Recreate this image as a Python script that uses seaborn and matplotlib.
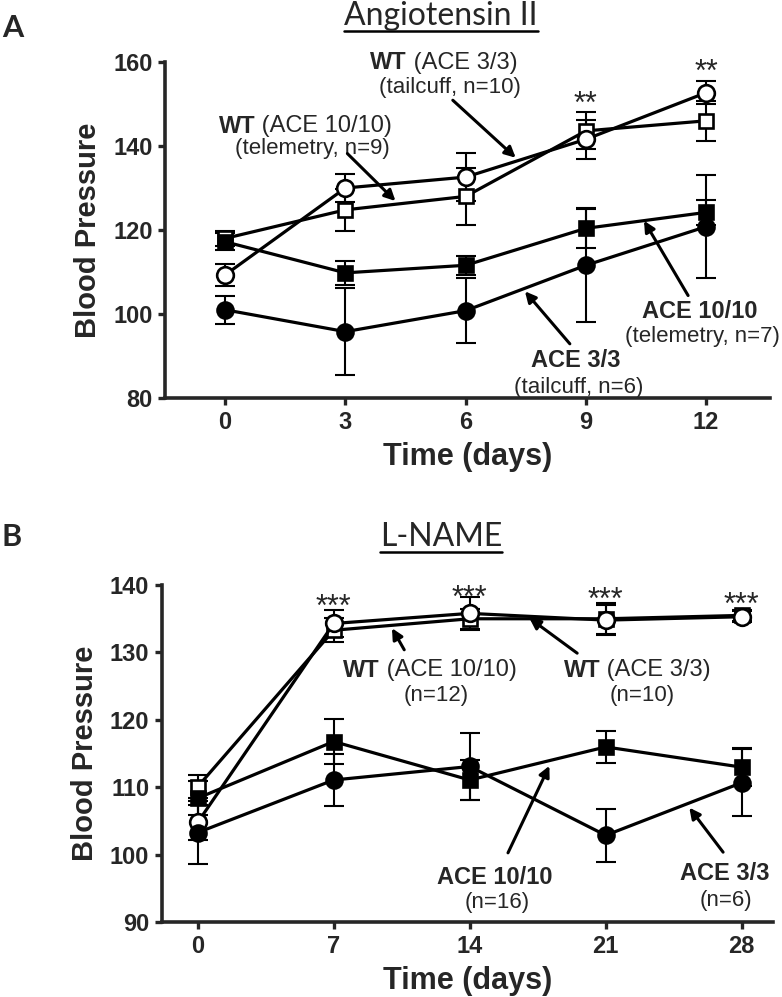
import numpy as np
import pandas as pd
import matplotlib
matplotlib.use("Agg")
import matplotlib.pyplot as plt
from matplotlib.lines import Line2D
import seaborn as sns

# Angiotensin II (mean, sem)
ang_days = [0, 3, 6, 9, 12]
ang_wt1010 = [118.0, 124.8, 128.0, 143.6, 146.0]
ang_wt1010_sem = [1.8, 5.0, 6.8, 4.4, 4.8]
ang_wt33 = [109.3, 130.0, 132.6, 141.6, 152.7]
ang_wt33_sem = [2.6, 3.4, 5.8, 4.6, 2.7]
ang_ace1010 = [117.2, 109.8, 111.6, 120.4, 124.2]
ang_ace1010_sem = [2.0, 2.9, 2.3, 4.7, 2.9]
ang_ace33 = [101.0, 95.8, 100.8, 111.6, 120.8]
ang_ace33_sem = [3.4, 10.4, 7.8, 13.6, 12.2]

# L-NAME (mean, sem)
ln_days = [0, 7, 14, 21, 28]
ln_wt1010 = [110.1, 133.3, 135.0, 135.0, 135.5]
ln_wt1010_sem = [1.7, 1.8, 1.5, 2.3, 0.8]
ln_wt33 = [104.8, 134.3, 135.8, 134.8, 135.3]
ln_wt33_sem = [2.6, 2.0, 2.4, 2.2, 0.8]
ln_ace1010 = [108.4, 116.8, 111.1, 116.0, 113.0]
ln_ace1010_sem = [2.5, 3.4, 3.0, 2.4, 2.8]
ln_ace33 = [103.3, 111.1, 113.1, 102.9, 110.7]
ln_ace33_sem = [4.7, 3.8, 5.0, 3.9, 5.0]

sns.set_style("ticks")
plt.rcParams['font.family'] = ['Liberation Sans', 'DejaVu Sans']

fig = plt.figure(figsize=(7.82, 9.97), dpi=100)
axA = fig.add_axes([0.211, 0.6008, 0.774, 0.337])
axB = fig.add_axes([0.2068, 0.0749, 0.7815, 0.3383])

styles = [
    ("WT 10/10", "s", "white", 10),
    ("WT 3/3", "o", "white", 12),
    ("ACE 10/10", "s", "black", 10.5),
    ("ACE 3/3", "o", "black", 11.5),
]


def draw_panel(ax, days, series, sems):
    for (name, mk, fc, ms), vals, err in zip(styles, series, sems):
        df = pd.DataFrame({"day": days, "bp": vals})
        ax.errorbar(days, vals, yerr=err, fmt="none", ecolor="black",
                    elinewidth=1.5, capsize=7, capthick=1.5, zorder=2)
        sns.lineplot(data=df, x="day", y="bp", ax=ax, color="black",
                     lw=2.3, marker=mk, markersize=ms, markerfacecolor=fc,
                     markeredgecolor="black", markeredgewidth=1.9, zorder=3)
    for s in ["top", "right"]:
        ax.spines[s].set_visible(False)
    for s in ["left", "bottom"]:
        ax.spines[s].set_linewidth(2.6)
    ax.tick_params(width=2.4, length=5, labelsize=17, pad=4)
    ax.set_xlabel("Time (days)", fontsize=22, fontweight="bold", labelpad=6)
    ax.set_ylabel("Blood Pressure", fontsize=21, fontweight="bold", labelpad=8)


draw_panel(axA, ang_days, [ang_wt1010, ang_wt33, ang_ace1010, ang_ace33],
           [ang_wt1010_sem, ang_wt33_sem, ang_ace1010_sem, ang_ace33_sem])
axA.set_xlim(-1.5, 13.6)
axA.set_ylim(80, 160)
axA.set_xticks(ang_days)
axA.set_yticks([80, 100, 120, 140, 160])

draw_panel(axB, ln_days, [ln_wt1010, ln_wt33, ln_ace1010, ln_ace33],
           [ln_wt1010_sem, ln_wt33_sem, ln_ace1010_sem, ln_ace33_sem])
axB.set_xlim(-1.85, 29.6)
axB.set_ylim(90, 140)
axB.set_xticks(ln_days)
axB.set_yticks([90, 100, 110, 120, 130, 140])

for ax in (axA, axB):
    for lab in ax.get_xticklabels() + ax.get_yticklabels():
        lab.set_fontweight("bold")

arrow = dict(arrowstyle="-|>", lw=2.2, color="black", mutation_scale=16,
             shrinkA=0, shrinkB=0)
fs = 17


def wt_label(ax, x, y, rest):
    ax.text(x, y, "WT", ha="right", va="center", fontsize=fs, fontweight="bold")
    ax.text(x, y, " " + rest, ha="left", va="center", fontsize=fs)


# panel A annotations
wt_label(axA, 0.75, 144.7, "(ACE 10/10)")
axA.text(2.18, 139.4, "(telemetry, n=9)", ha="center", va="center", fontsize=16)
axA.annotate("", xy=(4.25, 126.9), xytext=(3.05, 138.2), arrowprops=arrow)
wt_label(axA, 4.53, 159.8, "(ACE 3/3)")
axA.text(5.6, 154.0, "(tailcuff, n=10)", ha="center", va="center", fontsize=16)
axA.annotate("", xy=(7.25, 137.2), xytext=(5.68, 150.9), arrowprops=arrow,
             annotation_clip=False)
axA.text(11.83, 100.6, "ACE 10/10", ha="center", va="center", fontsize=fs, fontweight="bold")
axA.text(11.9, 94.6, "(telemetry, n=7)", ha="center", va="center", fontsize=16)
axA.annotate("", xy=(10.45, 122.2), xytext=(11.55, 104.4), arrowprops=arrow)
axA.text(8.75, 88.9, "ACE 3/3", ha="center", va="center", fontsize=fs, fontweight="bold")
axA.text(8.83, 82.4, "(tailcuff, n=6)", ha="center", va="center", fontsize=16)
axA.annotate("", xy=(7.48, 105.4), xytext=(8.6, 92.9), arrowprops=arrow)
axA.text(9, 147.8, "**", ha="center", va="baseline", fontsize=22)
axA.text(12, 155.6, "**", ha="center", va="baseline", fontsize=22, clip_on=False)

# panel B annotations
for d, y in zip(ln_days[1:], [135.4, 136.8, 136.4, 135.7]):
    axB.text(d, y, "***", ha="center", va="baseline", fontsize=22, clip_on=False)
wt_label(axB, 9.37, 127.4, "(ACE 10/10)")
axB.text(12.3, 123.6, "(n=12)", ha="center", va="center", fontsize=16)
axB.annotate("", xy=(10.0, 133.6), xytext=(10.63, 130.4), arrowprops=arrow)
wt_label(axB, 20.73, 127.4, "(ACE 3/3)")
axB.text(22.9, 123.6, "(n=10)", ha="center", va="center", fontsize=16)
axB.annotate("", xy=(17.07, 135.1), xytext=(19.53, 129.9), arrowprops=arrow)
axB.text(15.3, 96.7, "ACE 10/10", ha="center", va="center", fontsize=fs, fontweight="bold")
axB.text(15.4, 93.0, "(n=16)", ha="center", va="center", fontsize=16)
axB.annotate("", xy=(18.1, 113.2), xytext=(15.97, 100.3), arrowprops=arrow)
axB.text(27.15, 97.3, "ACE 3/3", ha="center", va="center", fontsize=fs, fontweight="bold")
axB.text(27.2, 93.2, "(n=6)", ha="center", va="center", fontsize=16)
axB.annotate("", xy=(25.3, 107.0), xytext=(27.04, 100.4), arrowprops=arrow)

# titles and panel letters
tA = fig.text(441 / 782, 1 - 25 / 997, "Angiotensin II", ha="center", va="baseline",
              fontsize=23, family="Lato")
tB = fig.text(441 / 782, 1 - 546 / 997, "L-NAME", ha="center", va="baseline",
              fontsize=23, family="Lato")
fig.text(2 / 782, 1 - 37 / 997, "A", ha="left", va="baseline", fontsize=22,
         family="Lato", fontweight="bold")
fig.text(2 / 782, 1 - 546 / 997, "B", ha="left", va="baseline", fontsize=22,
         family="Lato", fontweight="bold")

fig.canvas.draw()
r = fig.canvas.get_renderer()
for t, uy in ((tA, 31), (tB, 552)):
    bb = t.get_window_extent(r).transformed(fig.transFigure.inverted())
    fig.add_artist(Line2D([bb.x0, bb.x1], [1 - uy / 997] * 2, color="black",
                          lw=1.8, transform=fig.transFigure))

fig.savefig("out.png", dpi=100)
